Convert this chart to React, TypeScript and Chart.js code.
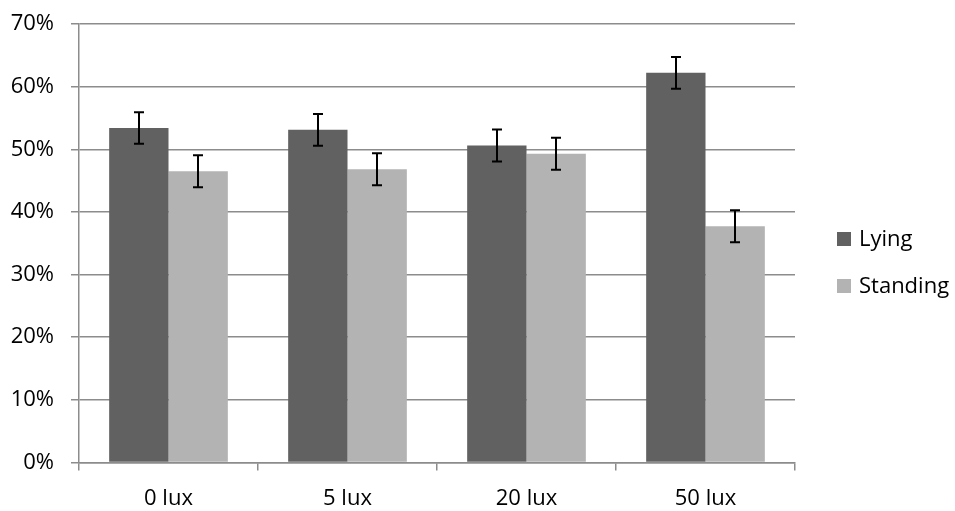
import React, { useEffect, useRef } from "react";
import { Chart, registerables } from "chart.js";

Chart.register(...registerables);

const categories = ["0 lux", "5 lux", "20 lux", "50 lux"];
const seriesNames = ["Lying", "Standing"];
const lyingValues = [53.4, 53.1, 50.6, 62.2];
const standingValues = [46.5, 46.8, 49.3, 37.7];
const lyingErrors = [2.5, 2.55, 2.55, 2.55];
const standingErrors = [2.55, 2.55, 2.55, 2.55];
const yMin = 0;
const yMax = 70;
const yStep = 10;

const seriesColors = ["#616161", "#b3b3b3"];
const gridColor = "#8c8c8c";
const FONT = "'Open Sans', 'Noto Sans', sans-serif";

const errorBarPlugin = {
  id: "errorBars",
  afterDatasetsDraw(chart: any) {
    const ctx = chart.ctx;
    const yScale = chart.scales.y;
    const errs = [lyingErrors, standingErrors];
    ctx.save();
    ctx.strokeStyle = "#000";
    ctx.lineWidth = 2;
    chart.data.datasets.forEach((ds: any, i: number) => {
      const meta = chart.getDatasetMeta(i);
      meta.data.forEach((bar: any, j: number) => {
        const v = ds.data[j];
        const e = errs[i][j];
        const yT = yScale.getPixelForValue(v + e);
        const yB = yScale.getPixelForValue(v - e);
        const x = Math.round(bar.x);
        const half = 5;
        ctx.beginPath();
        ctx.moveTo(x, yT);
        ctx.lineTo(x, yB);
        ctx.moveTo(x - half, yT);
        ctx.lineTo(x + half, yT);
        ctx.moveTo(x - half, yB);
        ctx.lineTo(x + half, yB);
        ctx.stroke();
      });
    });
    ctx.restore();
  },
};

const legendPlugin = {
  id: "customLegend",
  afterDraw(chart: any) {
    const ctx = chart.ctx;
    const area = chart.chartArea;
    const x0 = area.right + 42;
    const rowGap = 47;
    const n = chart.data.datasets.length;
    const centerY = chart.height / 2 + 7;
    const startY = centerY - ((n - 1) * rowGap) / 2;
    ctx.save();
    ctx.font = `22px ${FONT}`;
    ctx.textBaseline = "middle";
    ctx.textAlign = "left";
    chart.data.datasets.forEach((ds: any, i: number) => {
      const cy = startY + i * rowGap;
      ctx.fillStyle = ds.backgroundColor;
      ctx.fillRect(x0, cy - 7, 14, 14);
      ctx.fillStyle = "#000";
      ctx.fillText(ds.label, x0 + 22, cy + 1);
    });
    ctx.restore();
  },
};

export default function App() {
  const ref = useRef<HTMLCanvasElement | null>(null);
  useEffect(() => {
    if (!ref.current) return;
    const chart = new Chart(ref.current, {
      type: "bar",
      data: {
        labels: categories,
        datasets: [
          {
            label: seriesNames[0],
            data: lyingValues,
            backgroundColor: seriesColors[0],
            categoryPercentage: 0.663,
            barPercentage: 1,
          },
          {
            label: seriesNames[1],
            data: standingValues,
            backgroundColor: seriesColors[1],
            categoryPercentage: 0.663,
            barPercentage: 1,
          },
        ],
      },
      options: {
        responsive: false,
        animation: false,
        layout: { padding: { left: 8, top: 0, right: 160, bottom: 0 } },
        plugins: {
          legend: { display: false },
          tooltip: { enabled: false },
        },
        scales: {
          x: {
            afterFit: (scale: any) => {
              scale.height = 48.5;
            },
            grid: {
              offset: true,
              drawOnChartArea: false,
              drawTicks: true,
              tickLength: 8,
              color: gridColor,
              lineWidth: 1.5,
            },
            border: { display: true, color: gridColor, width: 1.5 },
            ticks: {
              color: "#000",
              font: { family: FONT, size: 22 },
              padding: 15,
            },
          },
          y: {
            min: yMin,
            max: yMax,
            afterFit: (scale: any) => {
              scale.width = 71;
              scale.paddingTop = 24;
              scale.paddingBottom = 14;
            },
            grid: {
              color: gridColor,
              lineWidth: 1.5,
              tickLength: 8,
            },
            border: { display: true, color: gridColor, width: 1.5 },
            ticks: {
              stepSize: yStep,
              color: "#000",
              font: { family: FONT, size: 22 },
              padding: 17,
              callback: (v: any) => `${v}%`,
            },
          },
        },
      },
      plugins: [errorBarPlugin, legendPlugin],
    });
    return () => chart.destroy();
  }, []);
  return (
    <div style={{ position: "fixed", left: 0, top: 0, width: 955, height: 511, background: "#fff" }}>
      <canvas ref={ref} width={955} height={511} style={{ display: "block" }} />
    </div>
  );
}
